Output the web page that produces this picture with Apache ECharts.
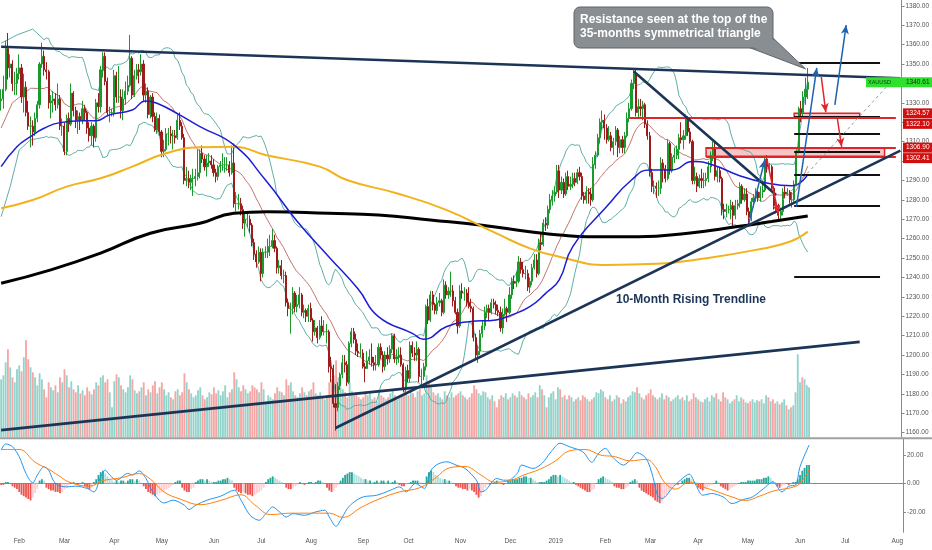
<!DOCTYPE html>
<html><head><meta charset="utf-8">
<script src="https://cdn.jsdelivr.net/npm/echarts@6/dist/echarts.min.js"></script>
<style>html,body{margin:0;padding:0;background:#fff}#c{width:932px;height:550px}</style>
</head><body><div id="c"></div>
<script>
// ---------- calendar ----------
const firstDate = '2018-01-22';
const lastDate = '2019-08-05';
const closedDays = ['2018-12-25', '2019-01-01'];
const monthNames = ['Jan','Feb','Mar','Apr','May','Jun','Jul','Aug','Sep','Oct','Nov','Dec'];

// ---------- daily XAUUSD ----------
const firstOpen = 1331;
const closes = [
1332,1337,1358,1348,1350,1340,1340,1345,1348,1333,
1338,1325,1318,1318,1315,1322,1329,1350,1354,1347,
1346,1330,1331,1332,1329,1332,1318,1318,1305,1322,
1319,1335,1326,1321,1323,1321,1327,1325,1317,1313,
1318,1312,1330,1328,1347,1354,1341,1325,1325,1325,
1344,1333,1333,1326,1332,1336,1339,1353,1334,1344,
1347,1346,1350,1334,1336,1324,1333,1323,1316,1322,
1315,1305,1306,1314,1314,1313,1313,1312,1321,1318,
1312,1290,1291,1289,1291,1291,1292,1294,1304,1301,
1297,1299,1300,1298,1294,1292,1297,1298,1298,1298,
1298,1294,1299,1278,1278,1278,1275,1268,1270,1270,
1267,1258,1252,1248,1253,1242,1253,1253,1256,1256,
1259,1255,1245,1246,1241,1241,1227,1224,1224,1232,
1225,1226,1231,1222,1223,1220,1224,1218,1212,1214,
1209,1215,1212,1212,1212,1194,1193,1175,1173,1184,
1190,1196,1195,1186,1206,1212,1208,1202,1201,1201,
1194,1193,1197,1199,1196,1195,1195,1204,1200,1194,
1200,1198,1203,1210,1198,1199,1200,1195,1183,1192,
1188,1205,1201,1200,1203,1189,1189,1194,1225,1218,
1231,1226,1223,1227,1228,1222,1236,1231,1233,1233,
1228,1222,1215,1233,1232,1232,1227,1225,1224,1209,
1200,1202,1211,1215,1222,1224,1222,1227,1226,1223,
1222,1214,1221,1224,1222,1231,1238,1237,1238,1248,
1244,1242,1242,1235,1238,1245,1249,1242,1258,1257,
1268,1267,1275,1280,1282,1284,1295,1285,1289,1283,
1292,1287,1288,1291,1289,1294,1292,1282,1280,1284,
1283,1280,1298,1303,1312,1320,1321,1317,1311,1313,
1307,1310,1316,1307,1311,1307,1313,1322,1327,1340,
1345,1325,1328,1327,1329,1319,1313,1294,1287,1287,
1286,1286,1299,1296,1291,1309,1295,1302,1303,1306,
1312,1311,1313,1322,1315,1310,1290,1292,1287,1291,
1290,1290,1291,1297,1303,1307,1292,1295,1291,1275,
1274,1275,1275,1277,1272,1277,1278,1287,1280,1283,
1274,1271,1279,1281,1284,1281,1284,1285,1301,1297,
1297,1286,1277,1277,1272,1274,1284,1283,1284,1280,
1280,1288,1305,1327,1325,1333,1337,1340.61];
const highs = [
1337,1344,1362,1366,1355,1352,1346,1348,1355,1350,
1345,1341,1331,1323,1321,1325,1331,1351,1361,1357,
1351,1347,1334,1336,1335,1340,1334,1322,1320,1324,
1325,1340,1336,1328,1326,1325,1331,1329,1326,1320,
1320,1319,1332,1335,1349,1356,1356,1343,1328,1327,
1347,1346,1349,1337,1337,1341,1344,1365,1354,1347,
1350,1350,1355,1352,1340,1338,1334,1335,1325,1325,
1324,1316,1311,1317,1317,1318,1316,1316,1324,1325,
1320,1314,1297,1295,1293,1296,1296,1306,1306,1308,
1303,1303,1304,1303,1301,1296,1298,1300,1304,1302,
1302,1300,1308,1309,1284,1283,1281,1277,1273,1274,
1272,1268,1260,1254,1256,1255,1255,1256,1260,1262,
1265,1262,1256,1249,1249,1244,1243,1229,1227,1235,
1233,1231,1235,1232,1226,1224,1226,1227,1219,1218,
1215,1218,1220,1218,1216,1213,1199,1195,1185,1186,
1191,1200,1200,1197,1207,1214,1214,1211,1206,1206,
1203,1196,1202,1203,1206,1199,1200,1206,1206,1202,
1202,1204,1205,1211,1211,1203,1204,1204,1196,1194,
1195,1207,1207,1204,1207,1204,1193,1196,1226,1229,
1233,1233,1227,1230,1232,1229,1239,1238,1235,1243,
1236,1230,1224,1236,1237,1235,1234,1235,1229,1225,
1211,1205,1213,1218,1225,1226,1226,1229,1229,1228,
1226,1225,1224,1229,1225,1235,1240,1241,1243,1251,
1250,1248,1246,1244,1240,1247,1252,1252,1260,1263,
1270,1271,1277,1283,1285,1287,1298,1298,1292,1291,
1294,1295,1292,1294,1294,1296,1297,1294,1284,1287,
1286,1286,1302,1305,1314,1322,1326,1324,1319,1318,
1315,1312,1318,1317,1313,1313,1315,1325,1330,1342,
1347,1347,1332,1332,1331,1330,1321,1315,1296,1290,
1289,1290,1302,1301,1298,1311,1310,1304,1307,1308,
1314,1320,1316,1324,1323,1317,1311,1297,1294,1293,
1296,1294,1294,1300,1305,1310,1310,1297,1297,1292,
1278,1278,1277,1280,1279,1280,1280,1289,1288,1286,
1286,1276,1281,1283,1286,1286,1287,1288,1302,1303,
1299,1298,1287,1279,1278,1276,1286,1287,1286,1285,
1284,1290,1306,1328,1331,1336,1343,1348];
const lows = [
1326,1327,1336,1342,1343,1336,1334,1334,1342,1330,
1325,1323,1316,1307,1308,1313,1320,1327,1348,1344,
1342,1327,1322,1325,1326,1327,1316,1313,1303,1303,
1315,1318,1323,1317,1314,1316,1319,1321,1314,1310,
1308,1307,1310,1325,1325,1343,1339,1323,1320,1323,
1323,1330,1330,1322,1321,1329,1334,1338,1332,1333,
1342,1340,1344,1331,1330,1322,1322,1320,1315,1314,
1313,1302,1302,1305,1308,1309,1306,1309,1311,1316,
1311,1288,1287,1286,1285,1282,1287,1290,1291,1299,
1295,1292,1297,1296,1292,1289,1290,1294,1295,1294,
1295,1292,1293,1276,1274,1275,1272,1265,1261,1266,
1263,1256,1249,1245,1247,1238,1240,1250,1250,1251,
1255,1253,1242,1242,1239,1237,1225,1220,1211,1221,
1222,1222,1224,1220,1219,1217,1217,1217,1207,1210,
1206,1208,1210,1210,1206,1191,1186,1173,1161,1171,
1182,1188,1191,1184,1185,1204,1206,1200,1199,1199,
1193,1186,1193,1195,1194,1192,1192,1194,1198,1191,
1192,1195,1196,1201,1196,1195,1196,1194,1181,1181,
1186,1186,1199,1197,1197,1186,1183,1187,1192,1216,
1217,1223,1221,1221,1225,1220,1221,1229,1229,1230,
1225,1221,1211,1214,1229,1228,1225,1224,1222,1207,
1198,1196,1200,1209,1213,1219,1218,1221,1224,1221,
1220,1212,1211,1220,1217,1221,1229,1234,1235,1237,
1242,1240,1239,1233,1232,1236,1244,1240,1241,1254,
1256,1264,1265,1273,1277,1279,1283,1281,1283,1281,
1282,1285,1285,1286,1287,1288,1290,1280,1278,1278,
1278,1277,1279,1296,1302,1309,1316,1311,1309,1310,
1305,1303,1308,1302,1304,1304,1304,1312,1320,1326,
1337,1323,1322,1323,1321,1317,1311,1292,1284,1283,
1281,1282,1283,1289,1289,1290,1293,1294,1299,1301,
1301,1309,1306,1311,1313,1309,1288,1288,1284,1286,
1286,1286,1287,1289,1294,1300,1290,1289,1289,1272,
1270,1271,1273,1270,1266,1270,1275,1276,1278,1279,
1272,1266,1269,1276,1279,1279,1279,1281,1284,1294,
1294,1284,1275,1273,1270,1269,1272,1281,1282,1278,
1276,1279,1287,1304,1320,1322,1329,1332];
const volumes = [
58,62,75,88,70,60,55,68,72,66, 80,97,78,70,65,60,52,64,58,48,
40,55,50,47,52,45,60,55,68,62, 50,56,48,45,52,44,47,42,50,46,
43,48,55,52,60,62,55,58,45,30, 56,63,60,52,48,45,50,62,58,47,
44,46,50,55,42,48,45,52,56,44, 50,55,48,42,45,40,38,46,48,42,
45,64,55,48,44,40,42,47,50,42, 38,40,45,43,50,44,47,42,46,52,
40,45,48,65,58,50,46,52,48,44, 46,52,50,48,45,55,48,36,42,40,
38,44,50,46,45,42,58,52,55,46, 42,40,44,50,45,42,46,48,55,44,
42,45,40,38,42,55,58,62,77,60, 50,48,45,40,55,46,42,45,40,38,
40,46,42,44,38,40,36,45,42,40, 38,40,44,48,42,38,40,43,50,44,
42,48,44,40,46,48,42,44,62,55, 50,45,42,44,40,38,46,42,40,45,
40,42,44,46,42,40,38,40,44,52, 48,44,42,46,45,40,38,42,36,30,
38,42,40,44,38,40,44,42,40,46, 42,40,38,44,40,42,45,40,52,48,
42,30,40,44,46,38,50,48,40,42, 38,42,40,36,38,40,37,42,40,38,
36,38,40,45,44,48,46,40,38,42, 36,38,42,40,34,38,36,40,42,46,
45,50,44,40,38,42,44,48,42,40, 38,40,44,38,42,40,36,38,40,42,
38,40,37,42,36,38,44,40,38,36, 35,38,40,36,42,40,44,38,36,45,
40,38,34,36,38,42,36,40,38,35, 34,36,38,35,37,36,38,34,42,40,
36,38,34,36,33,35,38,32,28,30, 32,45,83,55,60,58,52,50];

// ---------- MACD ----------
const macdHist = [
-1,-1,1,1,0,-2,-3,-4,-6,-8, -9,-10,-11,-12,-10,-7,-4,2,3,2,
-3,-4,-5,-5,-6,-6,-7,-6,-4,-3, -1,0,1,0,-1,0,1,-2,-3,-4,
-3,1,3,6,8,9,7,5,3,2, 1,2,1,2,2,1,2,3,3,2,
3,2,0,-2,-4,-6,-7,-8,-9,-8, -7,-6,-5,-4,-3,-2,-1,1,2,2,
-3,-5,-6,-6,-4,-3,1,2,3,3, 2,3,2,1,1,1,2,2,3,3,
4,3,2,-3,-5,-6,-7,-6,-7,-8, -8,-9,-8,-7,-6,-5,-3,1,3,4,
5,4,3,2,1,0,-3,-4,-4,-3, -2,-1,1,0,-1,0,1,1,0,1,
2,2,1,0,-3,-5,-6,-5,-3,-1, 2,4,6,7,8,8,7,6,5,4,
3,3,2,2,1,1,2,1,2,2, 1,2,1,1,2,1,-1,-2,-2,-1,
0,1,2,2,2,1,0,0,5,8, 9,8,6,5,4,3,3,2,2,1,
0,-2,-3,-3,-4,-4,-5,-4,-5,-6, -8,-10,-9,-6,-3,-1,-1,0,1,2,
1,0,-1,0,2,2,3,3,3,4, 4,5,5,4,4,3,2,1,1,1,
1,2,3,5,6,6,5,6,5,4, 3,2,1,1,-1,-2,-3,-4,-5,-6,
-6,-5,-4,0,3,4,5,4,3,2, 1,-2,-3,-3,-4,-4,-3,-2,1,2,
3,2,-3,-5,-6,-7,-8,-9,-10,-12, -13,-14,-13,-10,-8,-6,-4,-2,-1,-1,
0,2,3,4,4,3,2,1,-3,-4, -5,-4,-3,-2,-1,0,2,1,-2,-3,
-4,-5,-4,-3,-2,-1,0,1,1,1, 2,2,2,2,3,3,3,4,4,5,
4,2,1,-2,-3,-2,-1,0,-1,0, 1,1,3,6,9,11,13,13];
const macdLine = [[0,23.6],[2,27.9],[5,26],[8,18.9],[11,7],[14,0.4],[16,5.9],[19,11.8],[21,9.4],[23,2.3],[25,-1.2],[29,-2.4],[33,-1.9],[38,-3.5],[41,-6],[44,4.7],[46,9.4],[48,5.9],[51,2.3],[56,7.1],[58,5.9],[61,8.9],[64,3.5],[67,-6],[72,-13.8],[76,-11.8],[81,-15.4],[83,-18.4],[86,-15.4],[91,-11.8],[97,-9],[103,-4.8],[106,-11.8],[110,-22.5],[114,-26],[117,-21.3],[120,-16.6],[123,-20.1],[126,-23.7],[129,-21.3],[134,-22.5],[139,-20.1],[143,-18.9],[145,-23.7],[148,-30.3],[150,-26],[153,-17.7],[156,-13],[160,-9.5],[166,-8.3],[172,-4.8],[176,-2.4],[179,-6],[183,0],[187,-3.5],[190,9.4],[193,13.7],[197,15.3],[201,13],[205,10.6],[210,2.3],[212,-6],[214,-4.8],[219,3.5],[222,2.3],[224,2.3],[228,7],[230,13],[235,10.6],[239,14.2],[243,22.4],[247,28.4],[251,26],[257,22.4],[261,15],[264,21.3],[267,24.8],[270,18.9],[275,13],[278,16.5],[281,21.7],[285,17.7],[288,4.7],[290,-8.3],[292,-10.6],[297,-2.4],[301,3.5],[304,6.6],[307,-1.2],[310,-8.3],[314,-7.1],[319,-9.5],[323,-14.2],[328,-11.3],[332,-9.5],[337,-3.5],[341,1.1],[345,-6],[348,-1.9],[351,-1.2],[353,11.8],[357,27.2]];
const signalLine = [[0,24],[8,24],[15,15],[21,10],[25,6],[30,1],[39,-2],[45,2],[53,4],[61,7],[66,3],[72,-6],[79,-11],[88,-15],[97,-12],[106,-8],[112,-15],[119,-22],[128,-21],[136,-21],[145,-21],[151,-24],[159,-17],[167,-11],[176,-6],[185,-3],[192,4],[198,11],[205,12],[212,6],[218,1],[225,2],[231,6],[238,10],[245,16],[251,23],[258,24],[265,20],[271,19],[278,16],[285,17],[289,12],[293,1],[298,-4],[304,1],[309,-2],[315,-5],[322,-9],[329,-12],[335,-9],[342,-5],[349,-3],[353,0],[357,10]];

// ---------- moving averages [bar, price] ----------
const ma50 = [[0,1297.1],[7,1307.4],[13,1312.6],[19,1316.9],[26,1319.8],[36,1320.8],[42,1320.8],[48,1323.8],[58,1326.3],[64,1331],[69,1329.8],[79,1323.8],[88,1317.7],[103,1308.3],[117,1290.2],[131,1269],[145,1250.7],[158,1234],[167,1219.8],[182,1211.2],[187,1208.1],[197,1214.6],[207,1217.2],[219,1218.1],[226,1220.7],[234,1224.9],[241,1231.8],[247,1238.7],[253,1255.9],[268,1276.5],[279,1290.2],[287,1295.4],[297,1295.4],[306,1299.7],[315,1298],[326,1292.8],[338,1288.9],[350,1287.2],[357,1293]];
const ma100 = [[0,1275.7],[14,1279.9],[29,1286.8],[44,1291.1],[58,1297.1],[73,1304],[88,1307.1],[103,1307.4],[117,1303.1],[141,1297.1],[153,1290.2],[175,1283.4],[197,1274.8],[219,1262.8],[234,1255],[247,1250.7],[268,1246.4],[290,1247],[312,1249.9],[334,1254.2],[349,1258.4],[357,1263.6]];
const ma200 = [[0,1237],[22,1243.9],[44,1252.5],[66,1262.8],[88,1267.9],[103,1273.1],[118,1273.9],[145,1273.1],[167,1272.2],[190,1269.6],[212,1267],[234,1263.6],[247,1261.9],[260,1261],[282,1261],[304,1262.8],[326,1266.2],[341,1268.8],[357,1271.7]];
const ma20Start = [[0,1317],[5,1330],[13,1337.5]];
const bbUpperStart = [[0,1360.7],[7,1365],[14,1368]];
const bbLowerStart = [[0,1271.3],[4,1286.8],[8,1305.7],[13,1310.9]];

// ---------- axis ticks ----------
const priceTicks = [1160,1170,1180,1190,1200,1210,1220,1230,1240,1250,1260,1270,1280,1290,1300,1310,1320,1330,1340,1350,1360,1370,1380];
const macdTicks = [-20, 0, 20];

// ---------- drawings [bar1, price1, bar2, price2] ----------
const lastPrice = 1340.61;
const levelPrices = [1324.57, 1322.10, 1306.90, 1302.41];
const trendLines = [[0,1358.9,398,1342.7],[280,1346.1,343,1282.5],[148,1162.4,398,1305.4],[0,1161.3,380,1206.8]];
const blackLevels = [[351,389,1350.9],[351,389,1323.0],[351,389,1314.3],[351,389,1304.7],[351,389,1292.8],[351,389,1277.0],[351,389,1240.1]];
const redLevels = [[278,396,1322.10],[312,396,1306.90],[312,396,1302.41]];
const zones = [[351,380,1324.57,1322.10],[312,391,1306.90,1302.41]];
const redArrows = [[339,1300.6,344,1272.7],[363,1343.3,365,1325.2],[370,1322.7,372,1307.3]];
const blueArrows = [[331,1268,338,1300.6],[352,1276.4,361,1348],[369,1328.9,374,1370.1]];
const dashedLine = [346,1279.9,393,1339.7];
const calloutTip = [356, 1347.5];

// ---------- build ----------
function buildDates() {
  const out = [];
  const d = new Date(firstDate + 'T00:00:00Z');
  const end = new Date(lastDate + 'T00:00:00Z');
  while (d <= end) {
    const wd = d.getUTCDay();
    const s = d.toISOString().slice(0, 10);
    if (wd !== 0 && wd !== 6 && closedDays.indexOf(s) < 0) out.push(s);
    d.setUTCDate(d.getUTCDate() + 1);
  }
  return out;
}
const dates = buildDates();
const isMonthStart = (i) => i > 0 && dates[i].slice(0, 7) !== dates[i - 1].slice(0, 7);
const opens = closes.map((c, i) => i === 0 ? firstOpen : closes[i - 1]);
const candles = closes.map((c, i) => [opens[i], c, lows[i], highs[i]]);
const volData = volumes.map((v, i) => ({value: v, itemStyle: {color: closes[i] >= opens[i] ? '#92d3cb' : '#f5a6a4'}}));
const histData = macdHist.map((v, i) => {
  const p = i > 0 ? macdHist[i - 1] : v;
  let c;
  if (v >= 0) c = v >= p ? '#26a69a' : '#b2dfdb';
  else c = v <= p ? '#ef5350' : '#ffcdd2';
  return {value: v, itemStyle: {color: c}};
});
// Bollinger(20,2) and MA20 from closes
const ma20 = ma20Start.slice(), bbU = bbUpperStart.slice(), bbL = bbLowerStart.slice();
for (let i = 19; i < closes.length; i++) {
  let s = 0; for (let k = i - 19; k <= i; k++) s += closes[k];
  const m = s / 20;
  let v = 0; for (let k = i - 19; k <= i; k++) v += (closes[k] - m) * (closes[k] - m);
  const sd = Math.sqrt(v / 20);
  ma20.push([i, m]); bbU.push([i, m + 2 * sd]); bbL.push([i, m - 2 * sd]);
}

const navy = '#1c3557', red = '#e0252a', blue = '#1f63b0';
const seg = (a, b, c, d, style, arrow) => [
  {coord: [a, b], symbol: 'none'},
  {coord: [c, d], symbol: arrow ? 'arrow' : 'none', symbolSize: arrow ? [6, 9] : 0, lineStyle: style}
];
const lineMarks = [];
lineMarks.push([{yAxis: lastPrice, symbol: 'none', x: 0}, {yAxis: lastPrice, symbol: 'none', lineStyle: {color: '#7ad87a', width: 1, type: 'solid'}}]);
blackLevels.forEach(l => lineMarks.push(seg(l[0], l[2], l[1], l[2], {color: '#111', width: 2, type: 'solid'})));
redLevels.forEach(l => lineMarks.push(seg(l[0], l[2], l[1], l[2], {color: red, width: 2, type: 'solid'})));
trendLines.forEach(t => lineMarks.push(seg(t[0], t[1], t[2], t[3], {color: navy, width: 2.6, type: 'solid'})));
lineMarks.push(seg(dashedLine[0], dashedLine[1], dashedLine[2], dashedLine[3], {color: '#999', width: 1, type: [3, 3]}));
redArrows.forEach(t => lineMarks.push(seg(t[0], t[1], t[2], t[3], {color: red, width: 1.5, type: 'solid'}, true)));
blueArrows.forEach(t => lineMarks.push(seg(t[0], t[1], t[2], t[3], {color: blue, width: 1.5, type: 'solid'}, true)));

const areaMarks = zones.map(z => [{coord: [z[0], z[2]]}, {coord: [z[1], z[3]]}]);

const axisFont = {fontSize: 6.5, color: '#555', fontFamily: 'Liberation Sans'};
const lineS = (data, color, width, z, smooth, opacity) => ({
  type: 'line', data, xAxisIndex: 0, yAxisIndex: 0, showSymbol: false, symbol: 'none',
  smooth: smooth, silent: true, z: z,
  lineStyle: {color, width, opacity: opacity == null ? 1 : opacity}
});

const option = {
  animation: false,
  backgroundColor: '#ffffff',
  grid: [
    {left: 0, right: 29, top: 0, height: 437.3},
    {left: 0, right: 29, top: 0, height: 437.3},
    {left: 0, right: 29, top: 439, bottom: 17.7}
  ],
  xAxis: [
    {type: 'category', data: dates, gridIndex: 0, show: false},
    {type: 'category', data: dates, gridIndex: 1, show: false},
    {type: 'category', data: dates, gridIndex: 2,
     axisLine: {lineStyle: {color: '#8a8a8a', width: 1}},
     axisTick: {alignWithLabel: true, interval: (i) => isMonthStart(i), length: 3, lineStyle: {color: '#8a8a8a'}},
     axisLabel: Object.assign({interval: (i) => isMonthStart(i), margin: 5,
       formatter: (v) => { const m = +v.slice(5, 7); return m === 1 ? v.slice(0, 4) : monthNames[m - 1]; }}, axisFont),
     splitLine: {show: false}}
  ],
  yAxis: [
    {type: 'value', gridIndex: 0, position: 'right', min: 1157.6, max: 1383.0, scale: true,
     splitLine: {show: false},
     axisLine: {show: true, lineStyle: {color: '#8a8a8a'}},
     axisTick: {show: true, length: 3, customValues: priceTicks, lineStyle: {color: '#8a8a8a'}},
     axisLabel: Object.assign({customValues: priceTicks, margin: 4, formatter: (v) => v.toFixed(2)}, axisFont)},
    {type: 'value', gridIndex: 1, show: false, min: 0, max: 437.3, splitLine: {show: false}},
    {type: 'value', gridIndex: 2, position: 'right', min: -34.5, max: 31.4,
     splitLine: {show: false},
     axisLine: {show: true, lineStyle: {color: '#8a8a8a'}},
     axisTick: {show: true, length: 3, customValues: macdTicks, lineStyle: {color: '#8a8a8a'}},
     axisLabel: Object.assign({customValues: macdTicks, margin: 4, formatter: (v) => v.toFixed(2)}, axisFont)}
  ],
  series: [
    {type: 'bar', name: 'Volume', data: volData, xAxisIndex: 1, yAxisIndex: 1, barWidth: '82%', silent: true, z: 1},
    lineS(bbU, '#4ea69c', 1, 2, false, 0.9),
    lineS(bbL, '#4ea69c', 1, 2, false, 0.9),
    lineS(ma20, '#b4524c', 1, 2, false, 0.8),
    {type: 'candlestick', name: 'XAUUSD', data: candles, xAxisIndex: 0, yAxisIndex: 0, barWidth: 1.6, silent: true, z: 3,
     itemStyle: {color: '#1a9a2c', color0: '#9e1b1b', borderColor: '#1a9a2c', borderColor0: '#9e1b1b', borderWidth: 1}},
    lineS(ma200, '#000000', 3, 4, 0.5),
    lineS(ma100, '#f2b21e', 2, 4, 0.5),
    lineS(ma50, '#1c1cd6', 1.5, 4, 0.5),
    {type: 'line', data: [], xAxisIndex: 0, yAxisIndex: 0, z: 6, silent: true,
     markLine: {silent: true, animation: false, symbol: ['none', 'none'], label: {show: false}, emphasis: {disabled: true}, data: lineMarks}},
    {type: 'line', data: [], xAxisIndex: 0, yAxisIndex: 0, z: 7, silent: true,
     markArea: {silent: true, animation: false, label: {show: false}, emphasis: {disabled: true},
       itemStyle: {color: 'rgba(240,150,150,0.55)', borderColor: red, borderWidth: 1.5}, data: areaMarks}},
    {type: 'bar', name: 'Histogram', data: histData, xAxisIndex: 2, yAxisIndex: 2, barWidth: '80%', silent: true, z: 2},
    {type: 'line', name: 'MACD', data: macdLine, xAxisIndex: 2, yAxisIndex: 2, showSymbol: false, symbol: 'none', smooth: 0.3, silent: true, z: 3,
     lineStyle: {color: '#2196f3', width: 1}},
    {type: 'line', name: 'Signal', data: signalLine, xAxisIndex: 2, yAxisIndex: 2, showSymbol: false, symbol: 'none', smooth: 0.4, silent: true, z: 3,
     lineStyle: {color: '#ff7f0e', width: 1}}
  ]
};

const chart = echarts.init(document.getElementById('c'));
chart.setOption(option);

// ---------- annotations positioned through the chart's own scales ----------
const toPx = (pt) => chart.convertToPixel({gridIndex: 0}, pt);
const toPy = (p) => chart.convertToPixel({yAxisIndex: 0}, p);
const g = [];
g.push({type: 'line', z: 100, shape: {x1: 0, y1: 438.2, x2: 932, y2: 438.2}, style: {stroke: '#a0a0a0', lineWidth: 2}});

// callout
const tip = toPx(calloutTip);
const boxStyle = {fill: '#898e93', stroke: '#5f6368', lineWidth: 1};
g.push({type: 'polygon', z: 101, shape: {points: [[748, 47], [772, 37], tip]}, style: boxStyle});
g.push({type: 'rect', z: 102, shape: {x: 574, y: 7, width: 199, height: 41, r: 6}, style: boxStyle});
g.push({type: 'polygon', z: 103, shape: {points: [[750, 46], [771, 38], [tip[0] - 3, tip[1] - 3]]}, style: {fill: '#898e93'}});
g.push({type: 'text', z: 104, x: 580, y: 13, style: {text: 'Resistance seen at the top of the\n35-months symmetrical triangle',
  fill: '#ffffff', font: 'bold 12px "Liberation Sans", Arial, sans-serif', lineHeight: 14, verticalAlign: 'top', align: 'left'}});

// trendline caption
g.push({type: 'text', z: 104, x: 616, y: 300, style: {text: '10-Month Rising Trendline', fill: navy,
  font: 'bold 12px "Liberation Sans", Arial, sans-serif', verticalAlign: 'middle', align: 'left'}});

// price tags on the axis
const gy = toPy(lastPrice);
g.push({type: 'rect', z: 105, shape: {x: 866, y: gy - 5, width: 66, height: 10}, style: {fill: '#2fe02f'}});
g.push({type: 'text', z: 106, x: 868, y: gy, style: {text: 'XAUUSD', fill: '#0d3a0d', font: '5.5px "Liberation Sans"', verticalAlign: 'middle'}});
g.push({type: 'text', z: 106, x: 906, y: gy, style: {text: lastPrice.toFixed(2), fill: '#0d2a0d', font: '6.5px "Liberation Sans"', verticalAlign: 'middle'}});
let prevY = -100;
levelPrices.slice().sort((a, b) => b - a).forEach(p => {
  let y = toPy(p);
  if (y < prevY + 10.5) y = prevY + 10.5;
  prevY = y;
  g.push({type: 'rect', z: 105, shape: {x: 903, y: y - 5, width: 29, height: 10}, style: {fill: '#d10f0f'}});
  g.push({type: 'text', z: 106, x: 906, y: y, style: {text: p.toFixed(2), fill: '#ffffff', font: '6.5px "Liberation Sans"', verticalAlign: 'middle'}});
});
chart.setOption({graphic: {elements: g}});
</script>
</body></html>
